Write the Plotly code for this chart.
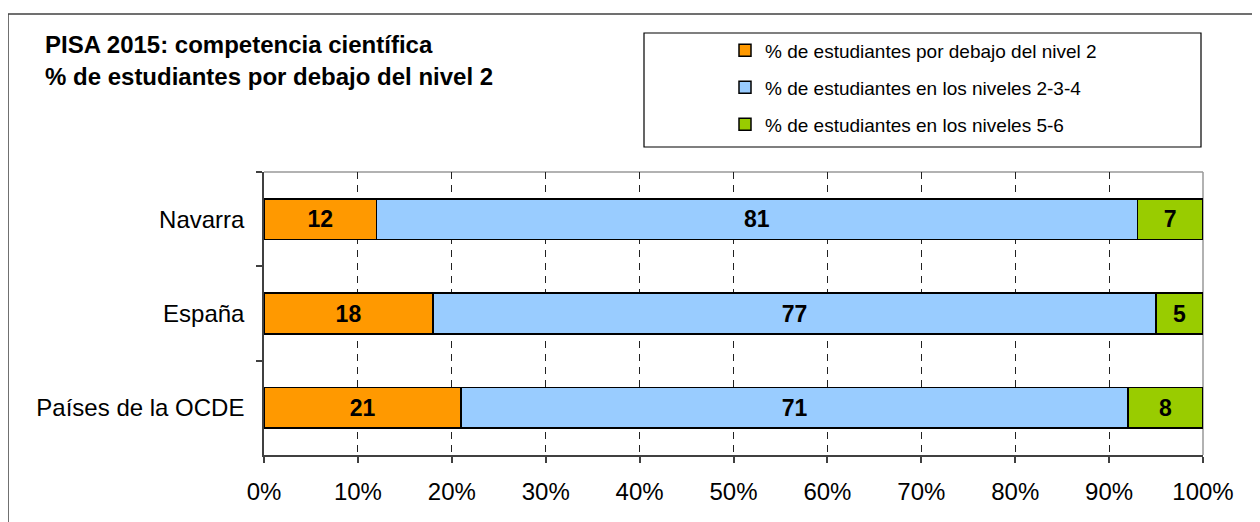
import plotly.graph_objects as go

categories = ["Navarra", "España", "Países de la OCDE"]
series_names = [
    "% de estudiantes por debajo del nivel 2",
    "% de estudiantes en los niveles 2-3-4",
    "% de estudiantes en los niveles 5-6",
]
below_2 = [12, 18, 21]
levels_2_4 = [81, 77, 71]
levels_5_6 = [7, 5, 8]
tick_vals = [0, 10, 20, 30, 40, 50, 60, 70, 80, 90, 100]
tick_text = [f"{v}%" for v in tick_vals]

colors = ["#FF9900", "#99CCFF", "#99CC00"]
FONT = "Liberation Sans, Arial, sans-serif"

fig = go.Figure()
for i, (name, vals) in enumerate(zip(series_names, [below_2, levels_2_4, levels_5_6])):
    fig.add_trace(go.Bar(
        y=categories, x=vals, orientation="h", name=name,
        marker=dict(color=colors[i], line=dict(color="#000000", width=1.5)),
        text=[str(v) for v in vals], textposition="inside",
        insidetextanchor="middle", textangle=0,
        textfont=dict(family=FONT, size=23, color="#000000", weight="bold"),
        legendgroup=f"g{i}", hoverinfo="skip",
    ))

# page body has an 8px margin: work in screenshot coordinates and shift by 8
OFF = 8
W, H = 1260 - OFF, 522 - OFF
L, T = 264 - OFF, 172 - OFF
R = W - (1203 - OFF)
B = H - (455 - OFF)
pw, ph = W - L - R, H - T - B

def px(x):
    return (x - OFF - L) / pw

def py(y):
    return (H - B - (y - OFF)) / ph

fig.update_layout(
    width=W, height=H,
    margin=dict(l=L, r=R, t=T, b=B, pad=0),
    barmode="stack", bargap=0.57,
    paper_bgcolor="white", plot_bgcolor="white",
    font=dict(family=FONT, color="#000000"),
    showlegend=True,
    legend=dict(
        x=px(725), y=py(31.5), xanchor="left", yanchor="top",
        font=dict(family=FONT, size=19, color="#000000"),
        bgcolor="rgba(0,0,0,0)", borderwidth=0,
        traceorder="grouped", tracegroupgap=9.3,
    ),
    xaxis=dict(
        range=[0, 100], tickvals=tick_vals, ticktext=tick_text,
        ticks="outside", ticklen=6, tickwidth=1.5, tickcolor="#404040",
        showline=True, linecolor="#404040", linewidth=2,
        showgrid=True, gridcolor="#222222", gridwidth=1, griddash="7px,6px",
        zeroline=False, tickfont=dict(family=FONT, size=24, color="#000000"),
        ticklabelstandoff=8, fixedrange=True,
    ),
    yaxis=dict(
        type="category", categoryorder="array", categoryarray=categories,
        autorange="reversed",
        ticks="outside", tickson="boundaries", ticklen=6, tickwidth=1.5,
        tickcolor="#404040", showline=True, linecolor="#404040", linewidth=1.5,
        showgrid=False, zeroline=False,
        tickfont=dict(family=FONT, size=24, color="#000000"),
        ticklabelstandoff=13, fixedrange=True,
    ),
    annotations=[
        dict(text="<b>PISA 2015: competencia científica</b>", xref="paper", yref="paper",
             x=px(43), y=py(45), xanchor="left", yanchor="middle", showarrow=False,
             font=dict(family=FONT, size=24, color="#000000")),
        dict(text="<b>% de estudiantes por debajo del nivel 2</b>", xref="paper", yref="paper",
             x=px(43), y=py(76), xanchor="left", yanchor="middle", showarrow=False,
             font=dict(family=FONT, size=24, color="#000000")),
    ],
    shapes=[
        # outer chart border (top and left visible)
        dict(type="line", xref="paper", yref="paper", x0=px(8), x1=px(1300), y0=py(14), y1=py(14),
             line=dict(color="#404040", width=1.5)),
        dict(type="line", xref="paper", yref="paper", x0=px(8), x1=px(8), y0=py(14), y1=py(560),
             line=dict(color="#404040", width=1.5)),
        # legend box
        dict(type="rect", xref="paper", yref="paper", x0=px(644), x1=px(1201), y0=py(147), y1=py(33),
             line=dict(color="#000000", width=1.2), fillcolor="rgba(0,0,0,0)"),
        # plot area top and right border
        dict(type="line", xref="paper", yref="paper", x0=0, x1=1, y0=1, y1=1,
             line=dict(color="#999999", width=1.5), layer="between"),
        dict(type="line", xref="paper", yref="paper", x0=1, x1=1, y0=0, y1=1,
             line=dict(color="#999999", width=1.5), layer="between"),
    ],
)

fig.write_html("out.html")
